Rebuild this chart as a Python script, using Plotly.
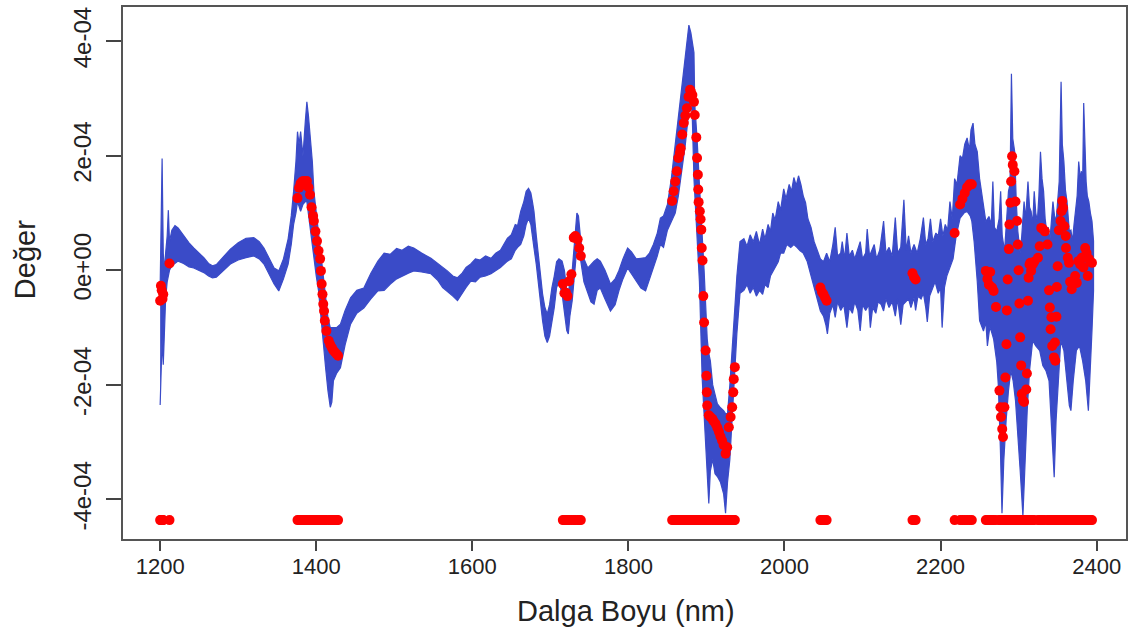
import plotly.graph_objects as go

SCALE = 1e-4  # values below are in units of 1e-4

# ---- blue spectra band (smooth part): wavelength, upper envelope, lower envelope ----
smooth_nm = [1200, 1201, 1202.5, 1204, 1205.5, 1207, 1209, 1210.5, 1212, 1215, 1219, 1223, 1230, 1237,
             1243, 1250, 1256, 1262, 1267, 1272, 1280, 1290, 1300, 1310, 1320, 1327, 1333, 1340, 1346,
             1352, 1358, 1364, 1368, 1371, 1374, 1376, 1378, 1380, 1383, 1386, 1388, 1390, 1393, 1395,
             1397, 1400, 1403, 1406, 1409, 1412, 1415, 1418, 1420, 1422, 1426, 1431, 1437, 1444, 1452,
             1461, 1470, 1479, 1487, 1495, 1503, 1510, 1518, 1525, 1535, 1547, 1556, 1562, 1568, 1575,
             1581, 1587, 1592, 1598, 1604, 1610, 1617, 1624, 1630, 1636, 1645, 1650, 1655, 1658, 1662,
             1666, 1669, 1672, 1675, 1677, 1679, 1682, 1684, 1687, 1690, 1693, 1696, 1699, 1702, 1705,
             1708, 1711, 1715, 1718, 1721, 1723, 1725, 1728, 1731, 1734, 1736, 1739, 1743, 1748, 1752,
             1756, 1760, 1764, 1770, 1777, 1783, 1788, 1793, 1799, 1804, 1810, 1816, 1822, 1827, 1832,
             1837, 1841, 1845, 1850, 1855, 1860, 1864, 1869, 1873, 1877.5, 1880, 1882, 1884, 1885, 1888,
             1891, 1894.5, 1897, 1899, 1901, 1903, 1905, 1908, 1911, 1914, 1918, 1922, 1924.5, 1927,
             1930, 1933, 1936, 1939, 1943]
smooth_up = [-0.3, 1.0, 1.95, 0.3, 0.0, 0.3, 0.6, 1.05, 0.5, 0.7, 0.78, 0.74, 0.6, 0.48,
             0.39, 0.3, 0.22, 0.12, 0.08, 0.1, 0.22, 0.37, 0.48, 0.56, 0.57, 0.5, 0.39, 0.2, 0.04,
             -0.01, 0.2, 0.55, 0.95, 1.38, 1.9, 2.42, 2.2, 2.42, 2.0, 2.6, 2.94, 2.7, 2.25, 1.9,
             1.38, 1.0, 0.68, 0.25, -0.13, -0.5, -0.83, -1.0, -1.0, -1.0, -1.0, -0.94, -0.7, -0.48, -0.35,
             -0.31, -0.05, 0.16, 0.3, 0.28, 0.38, 0.35, 0.42, 0.39, 0.3, 0.21, 0.12, 0.05, -0.01, -0.1,
             -0.13, -0.05, 0.05, 0.11, 0.2, 0.18, 0.25, 0.21, 0.3, 0.35, 0.56, 0.62, 0.8, 0.78, 1.03,
             1.2, 1.38, 1.43, 1.35, 1.2, 1.03, 0.6, 0.34, 0.0, -0.41, -0.65, -0.76, -0.6, -0.3, -0.1,
             0.15, 0.2, 0.16, 0.0, -0.35, -0.4, -0.2, 0.0, 0.55, 1.0, 0.95, 0.51, 0.2, 0.04, 0.1,
             0.16, 0.2, 0.16, 0.0, -0.24, -0.15, 0.0, 0.2, 0.39, 0.32, 0.2, 0.21, 0.22, 0.3, 0.45,
             0.65, 0.91, 0.95, 1.15, 1.6, 2.2, 2.7, 3.35, 3.8, 4.28, 4.15, 4.0, 3.8, 2.9, 2.3,
             1.5, 0.7, 0.0, -0.6, -1.2, -1.45, -1.58, -2.0, -2.15, -2.33, -2.4, -2.45, -2.5, -2.5,
             -2.0, -1.3, -0.8, -0.1, 0.5]
smooth_lo = [-2.35, -2.0, -1.2, -1.65, -1.0, -0.5, -0.2, -0.1, 0.0, 0.08, 0.12, 0.16, 0.12, 0.06,
             0.04, 0.0, -0.04, -0.1, -0.13, -0.12, -0.02, 0.11, 0.18, 0.22, 0.25, 0.2, 0.11, -0.08, -0.24,
             -0.36, -0.15, 0.11, 0.45, 0.8, 1.0, 1.2, 1.1, 1.03, 1.15, 1.2, 1.2, 1.0, 0.68, 0.45,
             0.21, -0.1, -0.36, -0.8, -1.23, -1.7, -2.1, -2.39, -2.3, -1.93, -1.8, -1.7, -1.3, -0.94, -0.75,
             -0.66, -0.5, -0.36, -0.35, -0.24, -0.15, -0.1, -0.05, -0.01, -0.03, -0.06, -0.18, -0.3, -0.36, -0.45,
             -0.53, -0.4, -0.3, -0.19, -0.2, -0.12, -0.1, -0.06, 0.0, 0.05, 0.16, 0.2, 0.35, 0.4, 0.45,
             0.6, 0.8, 0.91, 0.8, 0.6, 0.39, 0.1, -0.06, -0.5, -0.88, -1.15, -1.26, -1.15, -0.9, -0.65,
             -0.3, -0.2, -0.41, -0.7, -1.05, -1.11, -0.8, -0.53, -0.05, 0.4, 0.35, 0.16, -0.2, -0.41, -0.55,
             -0.59, -0.35, -0.31, -0.5, -0.71, -0.6, -0.35, -0.15, 0.04, -0.05, -0.19, -0.31, -0.36, -0.15, 0.04,
             0.25, 0.45, 0.4, 0.7, 0.85, 1.0, 1.3, 1.8, 2.2, 2.8, 3.2, 2.6, 1.6, 1.2, 0.6,
             -0.2, -1.87, -2.5, -3.03, -3.5, -4.07, -3.5, -3.3, -3.55, -3.6, -3.7, -3.9, -4.24, -3.7,
             -3.3, -2.6, -1.9, -1.1, -0.4]

# ---- noisy part (1948-2396 nm): upper and lower envelopes ----
noisy_up_nm = [1948, 1952, 1956, 1960, 1964, 1968, 1972, 1975, 1979, 1982, 1985, 1988, 1992, 1995, 1999,
               2002, 2006, 2009, 2012, 2015, 2018, 2021, 2024, 2027, 2030, 2034, 2038, 2042, 2046, 2050,
               2054, 2058, 2062, 2065, 2068, 2072, 2074, 2077, 2080, 2083, 2087, 2090, 2094, 2097, 2100,
               2104, 2106, 2109, 2112, 2115, 2118, 2122, 2127, 2130, 2134, 2138, 2142, 2145, 2149, 2153,
               2156, 2159, 2162, 2166, 2170, 2174, 2178, 2181, 2184, 2187, 2190, 2194, 2197, 2200, 2203,
               2206, 2209, 2212, 2215, 2218, 2221, 2225, 2228, 2231, 2234, 2237, 2239, 2241.6, 2244, 2247,
               2250, 2253, 2255, 2258, 2262, 2265, 2267, 2269, 2272, 2275, 2277, 2279, 2282, 2285, 2287,
               2289, 2290.8, 2292.5, 2295, 2297, 2299, 2302, 2304, 2307, 2309, 2312, 2314, 2316, 2318, 2320,
               2322, 2324, 2326, 2328, 2330, 2332, 2334, 2336, 2338, 2340, 2342, 2344, 2346, 2348, 2350,
               2352, 2354.4, 2356, 2358, 2360, 2362, 2365, 2367, 2369, 2371, 2373, 2375, 2377, 2379, 2380.5,
               2382, 2383.4, 2385, 2386.5, 2388, 2390, 2392, 2394, 2396]
noisy_up = [0.55, 0.42, 0.62, 0.5, 0.68, 0.45, 0.72, 0.55, 0.8, 0.68, 1.0, 0.88, 1.2, 1.05, 1.42,
            1.25, 1.5, 1.38, 1.62, 1.48, 1.65, 1.5, 1.3, 1.18, 0.9, 0.75, 0.5, 0.35, 0.2, 0.15,
            0.3, 0.15, 0.45, 0.75, 0.25, 0.3, 0.5, 0.2, 0.65, 0.25, 0.35, 0.2, 0.4, 0.5, 0.2,
            0.3, 0.72, 0.25, 0.35, 0.45, 0.2, 0.35, 0.86, 0.3, 0.4, 0.25, 0.92, 0.3, 0.4, 1.23,
            0.35, 0.6, 0.3, 0.45, 0.3, 0.55, 0.92, 0.45, 0.55, 0.9, 0.5, 0.65, 0.6, 0.9, 0.6,
            0.8, 0.7, 1.2, 0.9, 1.6, 1.5, 2.0, 1.95, 2.2, 2.31, 2.1, 2.45, 2.57, 2.2, 2.07,
            1.6, 1.32, 1.2, 0.85, 0.94, 0.8, 1.55, 0.75, 0.68, 0.9, 1.38, 0.6, 0.34, 0.9, 1.38,
            1.5, 3.43, 2.3, 2.07, 1.2, 0.68, 0.3, 0.6, 1.2, 0.9, 1.55, 1.1, 1.03, 0.8, 1.38,
            1.0, 0.86, 1.3, 2.07, 1.6, 1.38, 0.9, 0.68, 0.75, 0.51, 0.9, 1.2, 0.95, 0.86, 1.2,
            1.55, 3.29, 2.2, 1.9, 1.4, 1.2, 0.68, 0.7, 0.51, 0.8, 1.03, 1.3, 1.9, 1.6, 1.73,
            1.5, 2.92, 2.0, 1.55, 1.3, 1.2, 1.0, 0.86, 0.51]
noisy_lo_nm = [1948, 1952, 1956, 1960, 1964, 1968, 1972, 1975, 1979, 1982, 1985, 1988, 1992, 1995, 1999,
               2003, 2008, 2012, 2016, 2020, 2024, 2029, 2033, 2038, 2042, 2046, 2050, 2053, 2055, 2058,
               2062, 2065, 2068, 2072, 2076, 2080, 2083, 2087, 2090, 2094, 2097, 2100, 2104, 2108, 2110,
               2113, 2117, 2120, 2124, 2127, 2130, 2134, 2138, 2142, 2145, 2149, 2152, 2155, 2159, 2162,
               2166, 2168, 2171, 2175, 2178, 2181, 2183, 2186, 2190, 2193, 2197, 2200, 2202, 2205, 2208,
               2212, 2216, 2220, 2225, 2230, 2234, 2238, 2240, 2243, 2245, 2247, 2250, 2255, 2258, 2260,
               2263, 2265, 2268, 2270, 2272, 2274, 2276.7, 2278.7, 2281, 2284, 2287, 2290, 2293, 2296, 2299,
               2302, 2305.5, 2308, 2311, 2314, 2318, 2322, 2327, 2331, 2335, 2339, 2342, 2345.6, 2348, 2351,
               2354, 2358, 2362, 2365, 2367, 2370, 2374, 2378, 2382, 2386, 2389.4, 2392, 2394, 2396]
noisy_lo = [-0.35, -0.25, -0.4, -0.3, -0.45, -0.35, -0.42, -0.25, -0.3, -0.1, -0.05, 0.05, 0.15, 0.3, 0.3,
            0.45, 0.4, 0.45, 0.4, 0.34, 0.3, 0.16, 0.0, -0.3, -0.5, -0.71, -0.8, -0.95, -1.11, -0.75,
            -0.6, -0.82, -0.55, -0.7, -0.6, -1.0, -0.65, -0.75, -0.55, -0.7, -1.06, -0.6, -0.7, -0.6, -1.0,
            -0.65, -0.75, -0.55, -0.6, -0.71, -0.5, -0.65, -0.55, -0.8, -0.5, -0.95, -0.6, -0.55, -0.5, -0.65,
            -0.48, -0.7, -0.45, -0.5, -0.4, -0.65, -0.9, -0.45, -0.3, -0.2, -0.4, -0.3, -1.0, -0.3, -0.1,
            0.05, 0.2, 0.6, 0.91, 1.0, 1.03, 0.95, 0.86, 0.5, 0.2, -0.19, -0.88, -1.06, -0.9, -1.32,
            -1.0, -1.06, -1.2, -1.4, -1.6, -2.0, -3.14, -4.24, -3.32, -2.62, -2.1, -1.75, -1.93, -2.27, -2.8,
            -3.49, -4.29, -3.32, -2.45, -1.75, -1.23, -1.32, -1.4, -1.66, -1.75, -1.93, -2.62, -3.61, -2.62, -1.93,
            -1.23, -1.4, -1.93, -2.36, -2.45, -1.93, -1.4, -1.32, -1.58, -1.93, -2.45, -1.75, -1.06, -0.36]

# ---- selected wavelengths (red points) and their mean-spectrum values ----
sel_nm = [1200, 1201, 1202, 1203, 1204, 1212,
          1376, 1378, 1380, 1382, 1384, 1386, 1388, 1390, 1392, 1394, 1396, 1397, 1399, 1401, 1403, 1405,
          1406, 1407, 1408, 1409, 1410, 1411, 1413, 1416, 1418, 1420, 1422, 1424, 1426, 1428,
          1716, 1718, 1720, 1722, 1724, 1727, 1730, 1732, 1735, 1737, 1739,
          1856, 1858, 1860, 1862, 1864, 1866, 1867, 1869, 1871, 1873, 1875, 1877, 1879, 1880, 1882, 1884,
          1885, 1887, 1888, 1889, 1889.5, 1890, 1891.5, 1892.5, 1893.4, 1894, 1895, 1896, 1897, 1899, 1900,
          1900.5, 1901, 1903, 1905, 1907.5, 1909, 1911.7, 1914, 1916, 1918, 1920, 1922, 1924.5, 1926.6,
          1928.7, 1931, 1933, 1934.4, 1935, 1936.4,
          2046, 2048, 2050, 2052, 2054,
          2164, 2166, 2168,
          2218, 2225, 2228, 2231, 2234, 2237, 2240,
          2258, 2260, 2262, 2263.6, 2266, 2268, 2271, 2275.4, 2276.7, 2277.4, 2279, 2280, 2281.8, 2283,
          2284.4, 2285, 2286, 2287.5, 2288.2, 2289.5, 2290.4, 2291.6, 2292.5, 2294.6, 2296, 2298, 2299,
          2300, 2301, 2302, 2303.3, 2304, 2305.5, 2307, 2309.8, 2310.6, 2312, 2312.8, 2314, 2315, 2316,
          2318, 2320, 2324.8, 2327, 2329, 2331, 2333.6, 2337, 2339, 2340, 2341, 2342, 2343, 2345.3,
          2346.5, 2347, 2348.5, 2349, 2350, 2351.6, 2353.8, 2355, 2355.9, 2357, 2358.6, 2360.3, 2360.7,
          2363, 2364.6, 2366, 2368, 2370, 2372.4, 2374.5, 2376.6, 2379, 2381, 2383, 2385.3, 2387, 2388.6,
          2390, 2392, 2394]
sel_val = [-0.53, -0.27, -0.35, -0.5, -0.42, 0.12,
           1.26, 1.44, 1.52, 1.55, 1.56, 1.5, 1.56, 1.45, 1.32, 1.1, 0.95, 0.86, 0.68, 0.51, 0.34, 0.2,
           -0.01, -0.24, -0.42, -0.59, -0.71, -0.88, -1.06, -1.23, -1.3, -1.35, -1.4, -1.43, -1.46, -1.49,
           -0.24, -0.4, -0.39, -0.45, -0.19, -0.07, 0.57, 0.6, 0.54, 0.39, 0.25,
           1.21, 1.38, 1.55, 1.73, 1.96, 2.05, 2.13, 2.37, 2.57, 2.7, 2.83, 3.03, 3.15, 3.12, 3.06, 2.94,
           2.71, 2.32, 1.96, 1.67, 1.41, 1.19, 1.03, 0.89, 0.71, 0.39, 0.17, -0.45, -0.91, -1.4, -1.84,
           -2.13, -2.36, -2.53, -2.56, -2.59, -2.63, -2.68, -2.75, -2.82, -2.9, -2.97, -3.05, -3.2, -3.09,
           -2.74, -2.56, -2.39, -2.13, -1.9, -1.69,
           -0.3, -0.38, -0.42, -0.48, -0.53,
           -0.05, -0.12, -0.16,
           0.65, 1.15, 1.25, 1.35, 1.45, 1.5, 1.5,
           -0.01, -0.15, -0.25, -0.03, -0.3, -0.36, -0.64, -2.1, -2.39, -2.56, -2.77, -2.91, -2.39, -1.87,
           -1.29, -0.7, -0.16, 0.37, 0.8, 1.18, 1.55, 1.99, 1.84, 1.73, 1.2, 0.86, 0.45,
           0.0, -0.58, -1.17, -1.66, -2.16, -2.27, -2.3, -2.08, -1.8, -0.53, -0.13, 0.1, 0.13, -0.01,
           0.1, 0.15, 0.22, 0.42, 0.74, 0.72, 0.68, 0.45, -0.35, -0.65, -1.03, -0.82, -1.32, -1.52,
           -1.26, -1.58, -0.81, -0.29, 0.07, 0.7, 0.86, 1.03, 1.21, 1.09, 0.77, 0.6, 0.39,
           0.22, 0.13, -0.2, -0.33, -0.19, -0.1, -0.22, 0.16, 0.1, 0.22, 0.05, 0.39, 0.3, -0.1,
           0.2, 0.15, 0.13]
rug_level = -4.36  # bottom marks of the selected wavelengths (1e-4 units)

x_ticks = [1200, 1400, 1600, 1800, 2000, 2200, 2400]
y_ticks = [-4, -2, 0, 2, 4]
y_tick_text = ["-4e-04", "-2e-04", "0e+00", "2e-04", "4e-04"]

BLUE = "#3a4bc8"
RED = "#ff0000"
FONT = "Liberation Sans, Arial, Helvetica, sans-serif"

up_x = smooth_nm + noisy_up_nm
up_y = smooth_up + noisy_up
lo_x = smooth_nm + noisy_lo_nm
lo_y = smooth_lo + noisy_lo
poly_x = up_x + lo_x[::-1]
poly_y = [v * SCALE for v in up_y + lo_y[::-1]]

fig = go.Figure()
fig.add_trace(go.Scatter(x=poly_x, y=poly_y, mode="lines", fill="toself", fillcolor=BLUE,
                         line=dict(color=BLUE, width=1.2), hoverinfo="skip"))
fig.add_trace(go.Scatter(x=sel_nm, y=[v * SCALE for v in sel_val], mode="markers",
                         marker=dict(color=RED, size=10, line=dict(width=0))))
fig.add_trace(go.Scatter(x=sel_nm, y=[rug_level * SCALE] * len(sel_nm), mode="markers",
                         marker=dict(color=RED, size=10, line=dict(width=0))))

fig.update_layout(
    width=1133, height=639,
    margin=dict(l=123, r=6, t=5, b=100),
    paper_bgcolor="white", plot_bgcolor="white",
    showlegend=False,
    font=dict(family=FONT, color="#222"),
    xaxis=dict(range=[1152.4, 2437.6], tickvals=x_ticks, ticks="outside", ticklen=10, tickwidth=1.5,
               tickcolor="#444", showline=True, linecolor="#555", linewidth=1.6, mirror=True,
               showgrid=False, zeroline=False, tickfont=dict(size=22, family=FONT, color="#222"),
               ticklabelstandoff=-3),
    yaxis=dict(range=[-4.69e-4, 4.596e-4], tickvals=[v * SCALE for v in y_ticks], ticktext=y_tick_text,
               tickangle=-90, ticks="outside", ticklen=15, tickwidth=1.5, tickcolor="#444",
               showline=True, linecolor="#555", linewidth=1.6, mirror=True, showgrid=False,
               zeroline=False, tickfont=dict(size=24, family=FONT, color="#222"),
               ticklabelstandoff=6),
    annotations=[
        dict(text="Dalga Boyu (nm)", xref="paper", yref="paper", x=(627 - 123) / 1004,
             y=(539 - 611) / 534, xanchor="center", yanchor="middle", showarrow=False,
             font=dict(size=29, family=FONT, color="#222")),
        dict(text="Değer", xref="paper", yref="paper", x=(25 - 123) / 1004, y=(539 - 259) / 534,
             xanchor="center", yanchor="middle", textangle=-90, showarrow=False,
             font=dict(size=29, family=FONT, color="#222")),
    ],
)

fig.write_html("out.html")
